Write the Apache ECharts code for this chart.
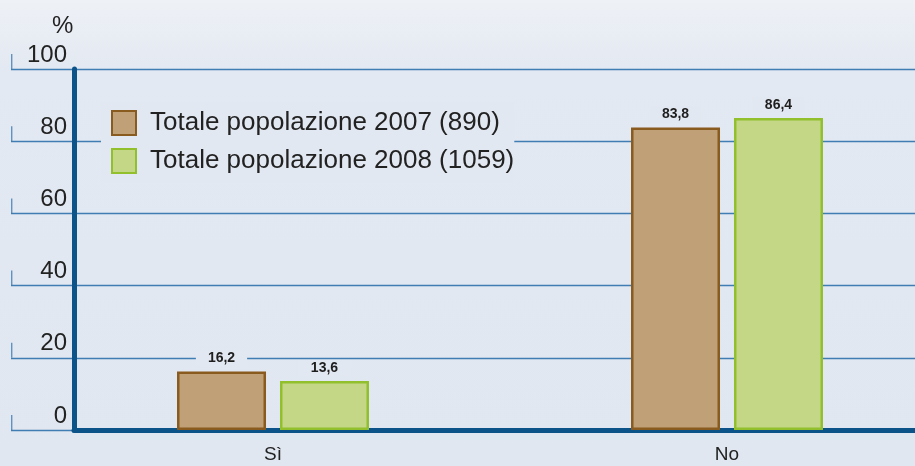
<!DOCTYPE html>
<html>
<head>
<meta charset="utf-8">
<script src="https://cdn.jsdelivr.net/npm/echarts@6/dist/echarts.min.js"></script>
<style>
	html, body { margin: 0; padding: 0; }
	#main { width: 915px; height: 466px; }
</style>
</head>
<body>
<div id="main"></div>
<script>
var categories = ['Sì', 'No'];
var seriesNames = ['Totale popolazione 2007 (890)', 'Totale popolazione 2008 (1059)'];
var values2007 = [16.2, 83.8];
var values2008 = [13.6, 86.4];
var yTicks = [0, 20, 40, 60, 80, 100];

var bg = '#e2e8f1';
var font = 'Liberation Sans';

function labelFmt(p) {
	return String(p.value).replace('.', ',');
}

var barLabel = {
	show: true,
	position: 'top',
	distance: 5,
	formatter: labelFmt,
	fontFamily: font,
	fontSize: 14,
	fontWeight: 'bold',
	color: '#1e1e1e',
	backgroundColor: bg,
	padding: [1, 12]
};

var myChart = echarts.init(document.getElementById('main'));
var option = {
	backgroundColor: {
		type: 'linear', x: 0, y: 0, x2: 0, y2: 1,
		colorStops: [{ offset: 0, color: '#eef1f6' }, { offset: 0.15, color: '#e3e9f2' }, { offset: 1, color: '#e1e7f1' }]
	},
	animation: false,
	title: {
		text: '%',
		left: 47,
		top: 9,
		textStyle: { fontFamily: font, fontSize: 24, fontWeight: 'normal', color: '#222' }
	},
	legend: {
		orient: 'vertical',
		left: 101,
		top: 102,
		padding: [8, 0, 8, 10],
		backgroundColor: bg,
		itemWidth: 24,
		itemHeight: 24,
		itemGap: 12,
		icon: 'rect',
		data: seriesNames,
		textStyle: { fontFamily: font, fontSize: 26, color: '#222', padding: [0, 0, 0, 9] }
	},
	grid: [
		{ left: 11, right: 0, top: 69, bottom: 36, outerBoundsMode: 'none' },
		{ left: 74, right: 0, top: 69, bottom: 36, outerBoundsMode: 'none' },
		{ left: 46, width: 908, top: 69, bottom: 36, outerBoundsMode: 'none' }
	],
	xAxis: [
		{ gridIndex: 0, type: 'value', min: 0, max: 1, show: false },
		{
			gridIndex: 1, type: 'value', min: 0, max: 1,
			axisLine: { show: true, lineStyle: { color: '#0b5389', width: 5 } },
			axisTick: { show: false }, axisLabel: { show: false }, splitLine: { show: false }
		},
		{
			gridIndex: 2, type: 'category', data: categories,
			axisLine: { show: false }, axisTick: { show: false },
			axisLabel: { margin: 15, fontFamily: font, fontSize: 19, color: '#222' }
		}
	],
	yAxis: [
		{
			gridIndex: 0, type: 'value', min: 0, max: 100, interval: 20,
			axisLine: { show: false }, axisTick: { show: false },
			axisLabel: {
				margin: -56,
				verticalAlign: 'bottom',
				padding: [0, 0, 2, 0],
				fontFamily: font, fontSize: 24, color: '#222'
			},
			splitLine: { lineStyle: { color: '#3f7db3', width: 1.3 } }
		},
		{
			gridIndex: 1, type: 'value', min: 0, max: 100, interval: 20,
			axisLine: { show: true, lineStyle: { color: '#0b5389', width: 5 } },
			axisTick: { show: false }, axisLabel: { show: false }, splitLine: { show: false }
		},
		{
			gridIndex: 2, type: 'value', min: 0, max: 100, interval: 20, show: false
		}
	],
	series: [
		{
			// small vertical marks at the left of each grid line
			type: 'scatter',
			xAxisIndex: 0, yAxisIndex: 0,
			symbol: 'rect',
			symbolSize: [1.4, 15],
			symbolOffset: [0.7, -7.5],
			itemStyle: { color: '#3f7db3' },
			silent: true,
			data: yTicks.map(function(v) { return [0, v]; })
		},
		{
			name: seriesNames[0],
			type: 'bar',
			xAxisIndex: 2, yAxisIndex: 2,
			barWidth: 89,
			barGap: '15.7%',
			itemStyle: { color: '#c0a077', borderColor: '#8a5b1f', borderWidth: 2.5 },
			label: barLabel,
			data: values2007
		},
		{
			name: seriesNames[1],
			type: 'bar',
			xAxisIndex: 2, yAxisIndex: 2,
			barWidth: 89,
			barGap: '15.7%',
			itemStyle: { color: '#c3d787', borderColor: '#92c02c', borderWidth: 2.5 },
			label: barLabel,
			data: values2008
		}
	]
};
myChart.setOption(option);
</script>
</body>
</html>
